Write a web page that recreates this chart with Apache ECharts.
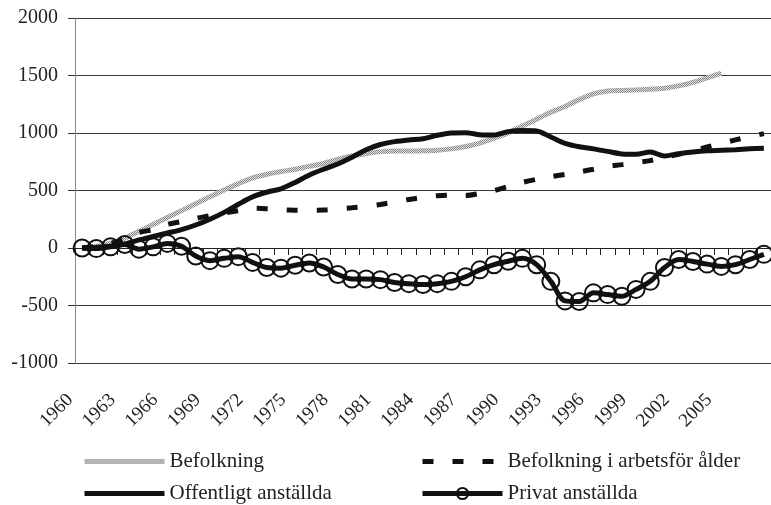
<!DOCTYPE html>
<html>
<head>
    <meta charset="UTF-8">
    <title>Befolkning och anställda</title>
    <script src="https://cdn.jsdelivr.net/npm/echarts/dist/echarts.min.js"></script>
    <style>
        body { margin: 0; background: #fff; }
    </style>
</head>
<body>
<div id="main" style="width: 771px;height:505px;"></div>
<script type="text/javascript">
    // år 1960-2008
    var years = ['1960', '1961', '1962', '1963', '1964', '1965', '1966', '1967', '1968', '1969',
        '1970', '1971', '1972', '1973', '1974', '1975', '1976', '1977', '1978', '1979',
        '1980', '1981', '1982', '1983', '1984', '1985', '1986', '1987', '1988', '1989',
        '1990', '1991', '1992', '1993', '1994', '1995', '1996', '1997', '1998', '1999',
        '2000', '2001', '2002', '2003', '2004', '2005', '2006', '2007', '2008'];

    var befolkning = [0, 15, 40, 85, 145, 205, 265, 325, 385, 445,
        505, 560, 610, 640, 665, 685, 710, 735, 770, 800,
        820, 838, 843, 843, 845, 850, 862, 882, 912, 955,
        1000, 1060, 1120, 1180, 1230, 1290, 1340, 1365, 1370, 1375,
        1380, 1390, 1410, 1440, 1480, 1520, null, null, null];

    var arbetsfor = [0, 15, 40, 75, 135, 160, 205, 230, 258, 280,
        305, 325, 345, 342, 333, 329, 328, 330, 340, 350,
        362, 378, 400, 422, 440, 455, 458, 457, 475, 500,
        535, 570, 597, 620, 640, 662, 685, 710, 725, 742,
        760, 790, 815, 845, 878, 910, 940, 968, 995];

    var offentligt = [0, 5, 15, 35, 70, 100, 130, 160, 200, 250,
        310, 380, 445, 485, 515, 570, 635, 685, 730, 790,
        855, 900, 925, 940, 950, 980, 1000, 1003, 985, 982,
        1012, 1022, 1018, 965, 910, 880, 862, 840, 818, 815,
        835, 800, 820, 835, 845, 850, 855, 862, 868];

    var privat = [0, -5, 10, 30, -10, 10, 40, 15, -70, -110,
        -90, -75, -125, -170, -175, -150, -130, -165, -230, -270,
        -270, -275, -300, -310, -318, -310, -290, -250, -190, -145,
        -115, -90, -145, -290, -460, -465, -390, -405, -420, -360,
        -290, -170, -100, -117, -140, -160, -145, -100, -55];

    var yTicks = [-1000, -500, 0, 500, 1000, 1500, 2000];

    var serif = "'Liberation Serif', 'DejaVu Serif', serif";

    // grått rastermönster för befolkningslinjen
    var pat = document.createElement('canvas');
    pat.width = 2;
    pat.height = 2;
    var pc = pat.getContext('2d');
    pc.fillStyle = '#e2e2e2';
    pc.fillRect(0, 0, 2, 2);
    pc.fillStyle = '#858585';
    pc.fillRect(0, 0, 1, 1);
    pc.fillRect(1, 1, 1, 1);
    var grayPattern = {image: pat, repeat: 'repeat'};

    function legendAt(name, left, top) {
        return {
            orient: 'vertical', left: left, top: top, padding: 0,
            itemWidth: 80, itemHeight: 14,
            lineStyle: {width: 'inherit'},
            textStyle: {fontFamily: serif, fontSize: 21, color: '#222'},
            data: [name]
        };
    }

    var chart = echarts.init(document.getElementById('main'));
    chart.setOption({
        animation: false,
        backgroundColor: '#fff',
        grid: {left: 75, top: 18, width: 699, height: 345},
        legend: [
            legendAt('Befolkning', 82, 451),
            legendAt('Offentligt anställda', 82, 483),
            legendAt('Befolkning i arbetsför ålder', 420, 451),
            legendAt('Privat anställda', 420, 483)
        ],
        xAxis: [
            {
                type: 'category', data: years, position: 'bottom', boundaryGap: true,
                axisLine: {show: false, onZero: false},
                axisTick: {show: false},
                axisLabel: {
                    rotate: 45, margin: 22, padding: [0, 17, 0, 0],
                    fontFamily: serif, fontSize: 19, color: '#222',
                    interval: function (index) {
                        return index % 3 === 0 && index < 48;
                    }
                },
                splitLine: {show: false}
            },
            {
                // axeln vid noll med streck
                type: 'category', data: years, position: 'bottom', boundaryGap: true,
                axisLine: {show: true, onZero: true, lineStyle: {color: '#222', width: 1}},
                axisTick: {show: true, interval: 0, length: 7, lineStyle: {color: '#222'}},
                axisLabel: {show: false},
                splitLine: {show: false}
            }
        ],
        yAxis: {
            type: 'value', min: yTicks[0], max: yTicks[yTicks.length - 1], interval: 500,
            axisLine: {show: true, lineStyle: {color: '#888'}},
            axisTick: {show: true, length: 7, lineStyle: {color: '#333'}},
            axisLabel: {
                margin: 17, fontFamily: serif, fontSize: 20, color: '#222',
                formatter: function (v) { return String(v); }
            },
            splitLine: {lineStyle: {color: '#3a3a3a', width: 1}}
        },
        series: [
            {
                name: 'Befolkning', type: 'line', data: befolkning, smooth: 0.3,
                symbol: 'none', connectNulls: false,
                lineStyle: {color: grayPattern, width: 5},
                itemStyle: {color: 'rgba(0,0,0,0)', borderWidth: 0}
            },
            {
                name: 'Befolkning i arbetsför ålder', type: 'line', data: arbetsfor, smooth: 0.3,
                symbol: 'none',
                lineStyle: {color: '#111', width: 5, type: [11, 19], cap: 'butt'},
                itemStyle: {color: 'rgba(0,0,0,0)', borderWidth: 0}
            },
            {
                name: 'Offentligt anställda', type: 'line', data: offentligt, smooth: 0.3,
                symbol: 'none',
                lineStyle: {color: '#111', width: 5},
                itemStyle: {color: 'rgba(0,0,0,0)', borderWidth: 0}
            },
            {
                name: 'Privat anställda', type: 'line', data: privat, smooth: 0.3,
                symbol: 'circle', symbolSize: 17, showAllSymbol: true,
                lineStyle: {color: '#111', width: 5},
                itemStyle: {color: 'rgba(0,0,0,0)', borderColor: '#111', borderWidth: 2}
            }
        ]
    });
</script>
</body>
</html>
